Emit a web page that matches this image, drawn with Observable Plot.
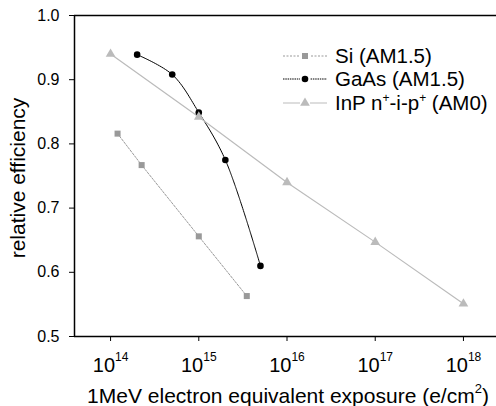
<!DOCTYPE html>
<html><head><meta charset="utf-8">
<script src="https://cdn.jsdelivr.net/npm/d3@7"></script>
<script src="https://cdn.jsdelivr.net/npm/@observablehq/plot@0.6"></script>
<style>
body{margin:0;background:#fff;font-family:"Liberation Sans",Arial,sans-serif;}
#wrap{position:relative;width:496px;height:406px;}
#legend{position:absolute;left:283px;top:44px;font-size:20.5px;color:#000;}
#legend .row{display:flex;align-items:center;height:23.5px;white-space:nowrap;}
#legend svg{margin-right:8px;}
#legend sup{font-size:12px;vertical-align:0;position:relative;top:-8px;}
</style></head><body><div id="wrap"></div>
<script>
const siX = [1.2e14, 2.25e14, 1e15, 3.5e15];
const siY = [0.816, 0.767, 0.656, 0.563];
const gaasX = [2e14, 5e14, 1e15, 2e15, 5e15];
const gaasY = [0.939, 0.908, 0.849, 0.775, 0.610];
const inpX = [1e14, 1e15, 1e16, 1e17, 1e18];
const inpY = [0.940, 0.842, 0.740, 0.647, 0.551];
const xTicks = [1e14, 1e15, 1e16, 1e17, 1e18];
const yTicks = [0.5, 0.6, 0.7, 0.8, 0.9, 1.0];
const xDomain = [3.9e13, 2.37e18];
const yDomain = [0.5, 1.0];
const seriesNames = ["Si (AM1.5)", "GaAs (AM1.5)", "InP n+-i-p+ (AM0)"];
const yLabel = "relative efficiency";
const xLabel = "1MeV electron equivalent exposure (e/cm";

const si = siX.map((x, i) => ({x, y: siY[i]}));
const gaas = gaasX.map((x, i) => ({x, y: gaasY[i]}));
const inp = inpX.map((x, i) => ({x, y: inpY[i]}));

const plot = Plot.plot({
  width: 496, height: 406,
  marginLeft: 74, marginTop: 15, marginBottom: 70, marginRight: 0,
  style: {fontFamily: "Liberation Sans, Arial, sans-serif", background: "#fff", color: "#000"},
  x: {type: "log", domain: xDomain},
  y: {domain: yDomain},
  marks: [
    Plot.axisY({ticks: yTicks, tickFormat: d3.format(".1f"), tickSize: 5, tickPadding: 10, label: null}),
    Plot.axisX({ticks: xTicks, tickFormat: d => String(Math.round(Math.log10(d))), tickSize: 5, tickPadding: 16, label: null}),
    Plot.ruleY([yDomain[0], yDomain[1]], {stroke: "#000", strokeWidth: 1.5}),
    Plot.ruleX([xDomain[0]], {y1: yDomain[0], y2: yDomain[1], stroke: "#000", strokeWidth: 1.5}),
    Plot.line(si, {x: "x", y: "y", stroke: "#999", strokeWidth: 1, strokeDasharray: "2,1.5"}),
    Plot.line(gaas, {x: "x", y: "y", stroke: "#000", strokeWidth: 1, strokeDasharray: "1.5,0.8", curve: "catmull-rom"}),
    Plot.line(inp, {x: "x", y: "y", stroke: "#bbb", strokeWidth: 1.2}),
    Plot.dot(si, {x: "x", y: "y", symbol: "square", r: 3.4, fill: "#999", stroke: "none"}),
    Plot.dot(gaas, {x: "x", y: "y", symbol: "circle", r: 3.3, fill: "#000", stroke: "none"}),
    Plot.dot(inp, {x: "x", y: "y", symbol: "triangle", r: 3.6, fill: "#bbb", stroke: "none"})
  ]
});

const svgSel = d3.select(plot);
svgSel.selectAll('g[aria-label="y-axis tick label"] text').style("font-size", "16px");
// superscript tick labels 10^n
svgSel.selectAll('g[aria-label="x-axis tick label"] text').each(function() {
  const t = d3.select(this);
  const e = t.text();
  t.text("").style("font-size", "20px");
  t.append("tspan").style("font-size", "20px").text("10");
  t.append("tspan").style("font-size", "12px").attr("dy", "-0.9em").text(e);
});
// axis labels
svgSel.append("text")
  .attr("transform", "translate(25,178) rotate(-90)")
  .attr("text-anchor", "middle").attr("fill", "#000")
  .style("font-size", "21px").style("font-family", "Liberation Sans, Arial, sans-serif")
  .text(yLabel);
const xl = svgSel.append("text")
  .attr("x", 288).attr("y", 403)
  .attr("text-anchor", "middle").attr("fill", "#000")
  .style("font-size", "21px").style("font-family", "Liberation Sans, Arial, sans-serif");
xl.append("tspan").text(xLabel);
xl.append("tspan").style("font-size", "13px").attr("dy", "-0.75em").text("2");
xl.append("tspan").style("font-size", "21px").attr("dy", "0.464em").text(")");

const wrap = document.getElementById("wrap");
wrap.appendChild(plot);

// legend
const legend = document.createElement("div");
legend.id = "legend";
const styles = [
  {stroke: "#999", dash: "2,1.5", sym: d3.symbolSquare, r: 3.4, fill: "#999"},
  {stroke: "#000", dash: "1.5,0.8", sym: d3.symbolCircle, r: 3.3, fill: "#000"},
  {stroke: "#bbb", dash: null, sym: d3.symbolTriangle, r: 3.6, fill: "#bbb"}
];
const labelsHtml = [seriesNames[0], seriesNames[1], "InP n<sup>+</sup>-i-p<sup>+</sup> (AM0)"];
styles.forEach((s, i) => {
  const row = document.createElement("div");
  row.className = "row";
  const svg = d3.create("svg").attr("width", 44).attr("height", 20);
  svg.append("line").attr("x1", 0).attr("x2", 44).attr("y1", 10).attr("y2", 10)
    .attr("stroke", s.stroke).attr("stroke-width", 1).attr("stroke-dasharray", s.dash);
  svg.append("rect").attr("x", 17).attr("y", 5).attr("width", 10).attr("height", 10).attr("fill", "#fff");
  svg.append("path").attr("transform", "translate(22,10)")
    .attr("d", d3.symbol(s.sym, Math.PI * s.r * s.r)()).attr("fill", s.fill);
  row.appendChild(svg.node());
  const span = document.createElement("span");
  span.innerHTML = labelsHtml[i];
  row.appendChild(span);
  legend.appendChild(row);
});
wrap.appendChild(legend);
</script></body></html>
